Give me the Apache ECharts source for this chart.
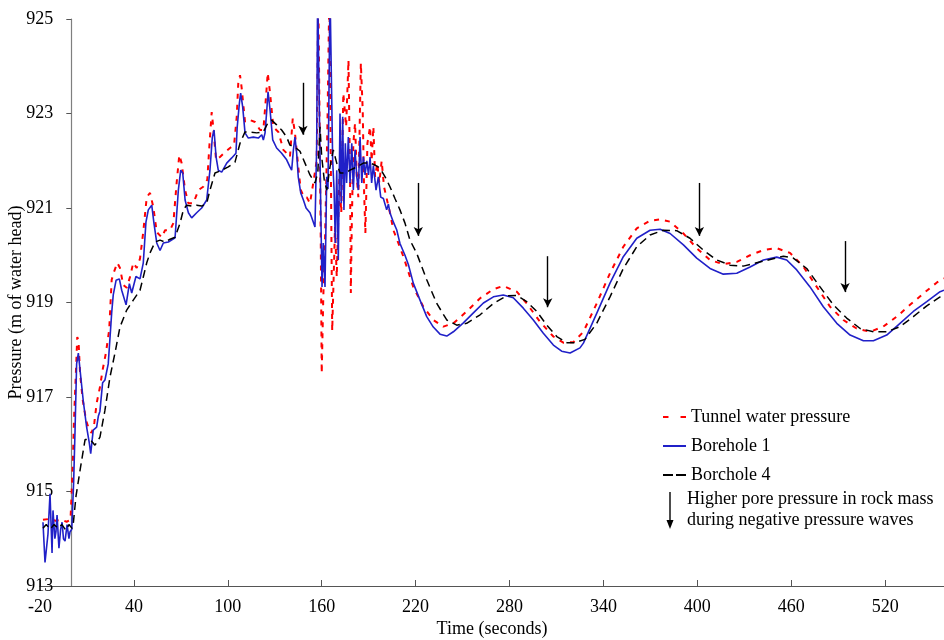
<!DOCTYPE html>
<html><head><meta charset="utf-8">
<script src="https://cdn.jsdelivr.net/npm/echarts@6/dist/echarts.min.js"></script>
<style>html,body{margin:0;padding:0;background:#fff}#chart{width:944px;height:640px}</style>
</head><body><div id="chart"></div>
<script>
const xTickLabels = [-20, 40, 100, 160, 220, 280, 340, 400, 460, 520];
const yTickLabels = [913, 915, 917, 919, 921, 923, 925];
const seriesNames = ['Tunnel water pressure', 'Borehole 1', 'Borchole 4'];

const tunnelTime = [-18.1,-14,-10,-6,-3,-0.5,0.9,1.7,3.0,3.8,4.6,5.6,7.3,9.4,11.5,13.0,14.7,16.2,18.3,20.0,22.1,24.2,25.8,27.3,29.4,31.1,33.2,35.4,37.5,39.6,41.8,43.9,46.0,48.2,50.3,52.4,54.6,57.8,59.9,63.1,65.2,67.3,69.0,70.5,72.7,74.8,78.0,81.2,84.3,86.9,88.2,89.7,90.7,92.5,95.0,98.2,101.4,104.0,105.7,106.7,107.8,108.8,111.0,114.2,117.4,120.6,122.7,124.4,125.5,127.0,129.1,132.3,135.5,137.6,139.7,141.5,142.9,145.0,146.6,148.7,150.4,152.5,154.6,156.8,157.8,159.4,160.0,161.0,162.1,163.6,164.9,166.0,166.7,168.5,169.6,171.3,172.5,173.8,175.6,177.1,178.1,178.6,179.2,180.2,181.3,182.4,183.4,185.0,186.2,187.1,187.9,189.2,190.9,191.9,193.0,194.1,195.5,196.8,198.3,199.8,201.5,203.6,205.8,208.5,212.2,218.5,224.9,231.3,237.7,244.1,252.6,261.2,269.7,276.0,284.6,291.0,299.5,308.0,314.4,320.8,327.2,335.7,344.2,352.7,361.3,369.8,376.2,382.6,391.1,399.6,408.1,416.6,425.2,433.7,442.2,450.7,459.2,467.7,476.3,484.8,493.3,501.8,510.3,518.8,527.4,535.9,544.4,552.9,557.6];
const tunnelValue = [914.4,914.42,914.38,914.4,914.36,914.4,915.52,916.5,917.57,918.27,918.2,917.5,916.94,916.51,916.3,916.24,916.45,916.87,917.21,917.57,917.93,918.42,919.48,919.65,919.84,919.73,919.37,919.31,919.54,919.84,919.73,919.93,920.5,921.23,921.32,921.02,920.49,920.38,920.53,920.53,920.68,921.53,922.12,921.95,921.38,921.1,921.1,921.38,921.45,921.6,922.3,923.03,922.71,922.02,922.08,922.18,922.27,922.33,922.93,923.65,923.81,923.56,922.82,922.86,922.82,922.65,922.65,923.35,923.86,923.43,922.71,922.61,922.23,922.16,922.08,922.9,922.59,921.87,921.38,921.23,921.23,921.1,921.53,922.0,925.6,920.26,917.5,919.1,920.3,922.65,925.6,925.6,918.4,920.6,919.54,921.66,920.9,923.43,922.72,924.13,921.66,919.2,920.6,922.37,922.8,921.66,921.23,924.07,923.07,921.32,920.47,922.37,922.72,922.0,922.72,921.66,921.95,921.53,922.0,921.45,921.2,920.9,920.53,920.3,919.97,919.33,918.91,918.63,918.49,918.56,918.81,919.09,919.28,919.35,919.23,918.98,918.59,918.28,918.15,918.16,918.38,918.98,919.62,920.18,920.57,920.73,920.76,920.71,920.46,920.15,919.9,919.81,919.86,920.0,920.11,920.15,920.05,919.76,919.33,918.91,918.63,918.45,918.38,918.49,918.7,918.95,919.19,919.42,919.51];

const borehole1Time = [-18.1,-16.8,-14.9,-13.6,-12.3,-11.7,-10.5,-9.8,-9.1,-7.9,-6.8,-5.9,-5.0,-4.0,-2.7,-1.5,-0.8,0.3,1.5,2.4,3.4,4.5,5.6,7.7,9.8,11.5,12.4,14.0,16.2,17.3,18.3,20.0,21.5,23.6,25.8,26.8,28.6,30.7,32.2,35.0,37.1,38.6,41.3,43.9,46.0,47.7,49.2,51.4,52.8,54.6,56.7,58.8,62.0,66.3,68.4,69.9,71.2,72.7,74.8,76.9,80.1,83.3,86.5,88.6,90.1,91.2,92.5,93.9,96.1,99.3,102.5,105.2,106.0,107.4,108.2,109.5,111.0,113.1,116.3,119.5,121.7,122.7,123.8,124.9,125.7,127.0,128.7,131.2,134.4,137.6,139.7,140.8,141.9,142.9,144.0,145.0,146.6,148.3,150.0,152.5,153.6,155.7,156.8,157.4,158.5,159.4,160.2,161.0,162.1,163.2,164.0,165.3,166.4,167.0,167.9,168.7,169.6,170.6,171.7,172.5,173.4,174.2,175.1,175.9,177.0,178.1,179.2,180.2,181.3,182.4,183.4,184.5,185.6,186.6,187.7,188.8,189.9,190.9,191.9,193.0,194.7,196.2,197.7,199.4,201.5,202.6,203.6,205.8,207.9,210.0,213.2,215.4,218.5,222.8,227.1,231.3,235.6,239.9,244.1,250.5,256.9,263.3,269.7,276.0,282.4,288.8,295.2,301.6,308.0,313.3,318.7,325.0,327.2,335.7,344.2,352.7,361.3,369.8,376.2,382.6,391.1,399.6,408.1,416.6,425.2,433.7,442.2,450.7,457.1,463.5,472.0,480.5,489.1,497.6,506.1,512.5,521.0,529.5,538.0,546.6,555.1,557.6];
const borehole1Value = [914.35,913.5,914.1,914.95,913.7,914.6,914.0,914.15,914.5,913.8,914.2,914.35,914.0,913.95,914.3,914.0,914.15,914.2,915.2,916.3,917.7,917.93,917.57,916.9,916.36,916.03,915.8,916.3,916.36,916.6,916.7,917.3,917.36,917.7,918.78,919.16,919.47,919.5,919.26,918.95,919.4,919.2,919.55,919.5,919.84,920.7,920.96,921.06,920.68,920.26,920.1,920.26,920.28,920.37,921.38,921.8,921.74,921.17,920.9,920.79,920.9,921.0,921.17,921.8,922.5,922.65,922.08,921.8,921.76,921.95,922.06,922.16,922.71,923.22,923.43,923.14,922.59,922.48,922.5,922.48,922.55,922.44,922.59,923.07,923.46,923.07,922.44,922.27,922.16,922.02,921.87,921.8,922.23,922.5,922.16,921.66,921.32,921.17,921.0,920.9,920.8,920.6,922.37,925.6,925.6,920.96,919.33,920.26,919.33,921.66,921.4,925.6,925.6,922.0,921.38,920.26,921.8,919.9,923.0,921.1,922.93,920.96,922.37,921.53,922.5,921.53,922.37,921.38,922.23,921.66,921.38,922.5,921.53,922.08,921.7,922.0,921.7,922.08,921.53,921.9,921.38,921.66,921.23,921.2,920.96,921.08,920.9,920.7,920.54,920.25,920.0,919.8,919.41,919.05,918.7,918.48,918.33,918.29,918.38,918.57,918.78,918.99,919.12,919.16,919.1,918.88,918.63,918.35,918.1,917.97,917.93,918.04,918.14,918.77,919.41,919.97,920.36,920.53,920.55,920.46,920.22,919.94,919.72,919.6,919.62,919.75,919.9,919.96,919.9,919.69,919.33,918.91,918.56,918.31,918.19,918.19,918.31,918.56,918.81,919.02,919.23,919.26];

const borehole4Time = [-18.1,-16,-13.5,-11,-8.5,-6,-3.5,-1.5,0.5,1.3,3.0,5.6,8.8,12.0,15.1,18.3,21.5,24.7,27.9,31.1,35.4,39.6,43.9,46.0,48.2,50.3,53.5,56.7,59.9,63.1,66.3,69.5,71.6,73.7,76.9,80.1,83.3,86.5,88.6,91.8,96.1,100.3,104.6,107.8,111.0,114.2,118.5,122.7,125.9,128.0,131.2,134.4,137.6,139.7,142.9,146.1,149.3,152.5,155.7,157.5,158.9,160.0,161.6,163.2,165.3,167.4,169.6,171.7,174.9,178.1,182.4,186.6,190.9,194.1,197.3,200.5,203.6,206.8,210.0,213.2,216.4,220.7,227.1,233.5,239.9,246.3,252.6,261.2,269.7,278.2,284.6,291.0,297.4,303.8,310.2,316.6,322.0,328.2,335.7,344.2,352.7,361.3,369.8,378.3,386.8,395.3,403.8,412.4,420.9,429.4,437.9,446.5,455.0,461.3,469.9,478.4,486.9,495.4,504.0,512.5,521.0,529.5,538.0,546.6,555.1,557.6];
const borehole4Value = [914.22,914.3,914.2,914.3,914.22,914.3,914.18,914.3,914.22,914.33,914.9,915.45,916.1,916.1,915.98,916.15,916.72,917.42,917.93,918.48,918.84,919.05,919.26,919.54,919.84,920.05,920.28,920.32,920.28,920.34,920.38,920.68,920.96,921.06,921.04,921.06,921.04,921.1,921.38,921.74,921.8,921.87,921.97,922.37,922.61,922.61,922.59,922.61,922.82,922.86,922.76,922.65,922.5,922.33,922.29,922.2,921.95,921.7,921.53,921.75,922.72,922.08,921.6,921.38,921.87,922.23,921.95,921.74,921.74,921.8,921.87,921.95,921.95,921.91,921.84,921.66,921.45,921.2,920.96,920.68,920.32,920.04,919.48,918.98,918.63,918.52,918.56,918.74,918.98,919.14,919.15,919.02,918.81,918.52,918.28,918.15,918.15,918.22,918.56,919.12,919.72,920.18,920.43,920.53,920.52,920.36,920.11,919.9,919.79,919.77,919.84,919.91,919.98,919.94,919.72,919.33,918.95,918.67,918.45,918.38,918.38,918.49,918.7,918.93,919.12,919.18];

// Arrows: time, top value, tip value
const arrowTime = [148.0, 221.7, 304.4, 401.3, 494.4];
const arrowTop = [923.65, 921.53, 919.98, 921.53, 920.30];
const arrowTip = [922.55, 920.41, 918.90, 920.41, 919.22];

const zip = (xs, ys) => xs.map((x, i) => [x, ys[i]]);
const FONT = '"Liberation Serif", "Times New Roman", serif';

const chart = echarts.init(document.getElementById('chart'), null, {renderer: 'canvas'});
chart.setOption({
  animation: false,
  backgroundColor: '#ffffff',
  textStyle: {fontFamily: FONT},
  grid: {left: 40, right: 0, top: 19, bottom: 54, containLabel: false, outerBoundsMode: 'none'},
  xAxis: {
    type: 'value', min: -20, max: 557.6,
    name: 'Time (seconds)', nameLocation: 'middle', nameGap: 34, nameMoveOverlap: false,
    nameTextStyle: {fontFamily: FONT, fontSize: 18, color: '#000'},
    axisLine: {onZero: false, lineStyle: {color: '#555', width: 1.2}},
    axisTick: {inside: true, length: 6, lineStyle: {color: '#555'}, customValues: xTickLabels},
    axisLabel: {customValues: xTickLabels, fontFamily: FONT, fontSize: 18, color: '#000', margin: 12},
    splitLine: {show: false}
  },
  yAxis: {
    type: 'value', min: 913, max: 925, offset: -31.3,
    name: 'Pressure (m of water head)', nameLocation: 'middle', nameGap: 46, nameMoveOverlap: false,
    nameTextStyle: {fontFamily: FONT, fontSize: 18, color: '#000'},
    axisLine: {onZero: false, lineStyle: {color: '#7f7f7f', width: 1.2}},
    axisTick: {inside: false, length: 5, lineStyle: {color: '#555'}, customValues: yTickLabels},
    axisLabel: {customValues: yTickLabels, fontFamily: FONT, fontSize: 18, color: '#000', margin: 18},
    splitLine: {show: false}
  },
  legend: {
    orient: 'vertical', left: 658, top: 403, itemWidth: 23, itemHeight: 2, itemGap: 11,
    selectedMode: false, symbolKeepAspect: false,
    data: [
      {name: seriesNames[0], icon: 'path://M0,0H5V2H0Z M16,0H21V2H16Z', itemStyle: {color: '#ff0000'}},
      {name: seriesNames[1], icon: 'path://M0,0H24V1.6H0Z', itemStyle: {color: '#2020c8'}},
      {name: seriesNames[2], icon: 'path://M0,0H10V1.6H0Z M13,0H23V1.6H13Z', itemStyle: {color: '#000'}}
    ],
    textStyle: {fontFamily: FONT, fontSize: 18, color: '#000'}
  },
  series: [
    {
      name: seriesNames[0], type: 'line', data: zip(tunnelTime, tunnelValue),
      showSymbol: false, symbol: 'none', z: 2,
      lineStyle: {color: '#ff0000', width: 2, type: [5, 6]}, itemStyle: {color: '#ff0000'}
    },
    {
      name: seriesNames[1], type: 'line', data: zip(borehole1Time, borehole1Value),
      showSymbol: false, symbol: 'none', z: 3,
      lineStyle: {color: '#2020c8', width: 1.6, type: 'solid'}, itemStyle: {color: '#2020c8'}
    },
    {
      name: seriesNames[2], type: 'line', data: zip(borehole4Time, borehole4Value),
      showSymbol: false, symbol: 'none', z: 4,
      lineStyle: {color: '#000000', width: 1.5, type: [8, 5]}, itemStyle: {color: '#000'},
      markLine: {
        silent: true, symbol: ['none', 'arrow'], symbolSize: [7, 9],
        label: {show: false},
        lineStyle: {color: '#000', width: 1.4, type: 'solid'},
        data: arrowTime.map((t, i) => [{coord: [t, arrowTop[i]]}, {coord: [t, arrowTip[i]]}])
      }
    }
  ],
  graphic: [
    {type: 'line', shape: {x1: 670, y1: 492, x2: 670, y2: 522}, style: {stroke: '#000', lineWidth: 1.4}},
    {type: 'polygon', shape: {points: [[666.5, 520], [673.5, 520], [670, 529]]}, style: {fill: '#000'}},
    {type: 'text', left: 687, top: 489, style: {text: 'Higher pore pressure in rock mass\nduring negative pressure waves', font: '18px "Liberation Serif", serif', fill: '#000', lineHeight: 21}}
  ]
});
</script></body></html>
